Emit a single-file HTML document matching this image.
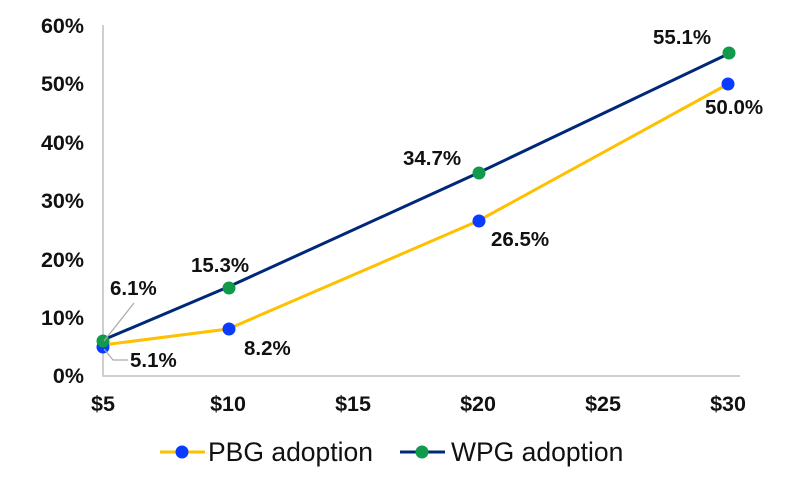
<!DOCTYPE html><html><head><style>body{margin:0;background:#fff}</style></head><body>
<svg width="800" height="480" xmlns="http://www.w3.org/2000/svg" font-family="Liberation Sans, Arial, sans-serif">
<rect width="800" height="480" fill="#fff"/>
<path d="M103 25 V376 H740" fill="none" stroke="#bfbfbf" stroke-width="1.5"/>
<g font-size="21.5" font-weight="bold" fill="#111" text-anchor="end">
<text x="84" y="383">0%</text><text x="84" y="325">10%</text><text x="84" y="267">20%</text><text x="84" y="208">30%</text><text x="84" y="150">40%</text><text x="84" y="91">50%</text><text x="84" y="33">60%</text>
</g>
<g font-size="21.5" font-weight="bold" fill="#111" text-anchor="middle">
<text x="103" y="411">$5</text><text x="228" y="411">$10</text><text x="353" y="411">$15</text><text x="478" y="411">$20</text><text x="603" y="411">$25</text><text x="728" y="411">$30</text>
</g>
<polyline points="103,345 228,329 478,221 728,84" fill="none" stroke="#ffc000" stroke-width="3"/>
<polyline points="103,340 228,287 478,173 728,54" fill="none" stroke="#002878" stroke-width="3"/>
<g fill="#0a3cff"><circle cx="103" cy="347" r="6.5"/><circle cx="229" cy="329" r="6.5"/><circle cx="479" cy="221" r="6.5"/><circle cx="728" cy="84" r="6.5"/></g>
<g fill="#119a4a"><circle cx="103" cy="341" r="6.5"/><circle cx="229" cy="288" r="6.5"/><circle cx="479" cy="173" r="6.5"/><circle cx="729" cy="53" r="6.5"/></g>
<path d="M104 341 L134 303 M104 349 L113 360 H128" fill="none" stroke="#aaa" stroke-width="1.2"/>
<g font-size="20.5" font-weight="bold" fill="#111">
<text x="110" y="295">6.1%</text><text x="130" y="367">5.1%</text>
<text x="191" y="272">15.3%</text><text x="244" y="355">8.2%</text>
<text x="403" y="165">34.7%</text><text x="491" y="246">26.5%</text>
<text x="653" y="44">55.1%</text><text x="705" y="114">50.0%</text>
</g>
<line x1="160" y1="452" x2="205" y2="452" stroke="#ffc000" stroke-width="3"/><circle cx="182" cy="452" r="6.5" fill="#0a3cff"/>
<text x="208" y="461" font-size="26.5" fill="#111">PBG adoption</text>
<line x1="400" y1="452" x2="445" y2="452" stroke="#002878" stroke-width="3"/><circle cx="422" cy="452" r="6.5" fill="#119a4a"/>
<text x="451" y="461" font-size="26.5" fill="#111">WPG adoption</text>
</svg></body></html>
